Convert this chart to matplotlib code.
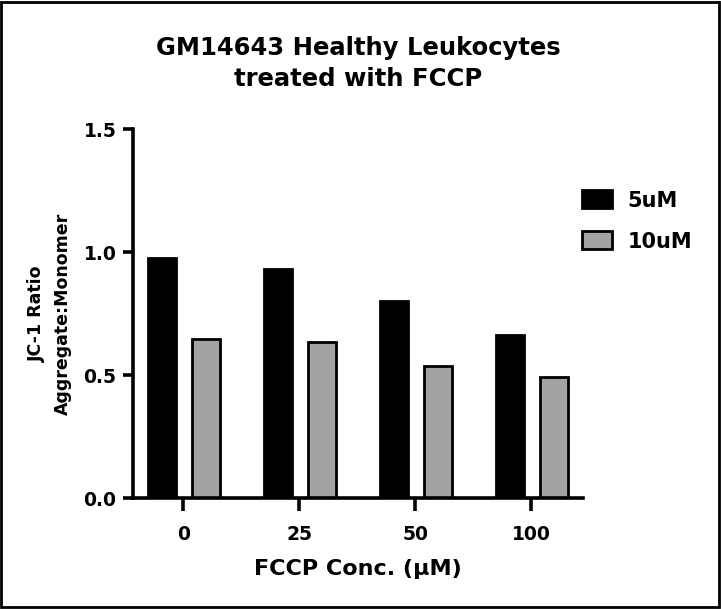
import matplotlib.pyplot as plt
import numpy as np
from matplotlib.patches import Rectangle

plt.rcParams["font.family"] = ["DejaVu Sans"]
plt.rcParams["font.weight"] = "bold"

categories = ["0", "25", "50", "100"]
series_names = ["5uM", "10uM"]
vals_5um = [0.978, 0.933, 0.804, 0.665]
vals_10um = [0.648, 0.635, 0.536, 0.493]

fig = plt.figure(figsize=(7.21, 6.09), dpi=100)
ax = fig.add_axes([0.1845, 0.1818, 0.6241, 0.6059])

x = np.arange(len(categories))
width = 0.245
ax.bar(x - 0.185, vals_5um, width, color="black", edgecolor="black", linewidth=2,
       label=series_names[0])
ax.bar(x + 0.195, vals_10um, width, color="#a3a3a6", edgecolor="black", linewidth=2,
       label=series_names[1])

ax.set_xlim(-0.434, 3.446)
ax.set_ylim(0, 1.5)
ax.set_yticks([0, 0.5, 1.0, 1.5])
ax.set_yticklabels(["0.0", "0.5", "1.0", "1.5"])
ax.set_xticks(x)
ax.set_xticklabels(categories)
ax.spines[["top", "right"]].set_visible(False)
for s in ["left", "bottom"]:
    ax.spines[s].set_linewidth(2.6)
ax.tick_params(width=2.6, length=7, labelsize=13.5, pad=5)
ax.tick_params(axis="x", length=9, pad=10)

ax.set_xlabel("FCCP Conc. (\u03bcM)", fontsize=16, fontweight="bold", labelpad=11)
ax.set_ylabel("JC-1 Ratio\nAggregate:Monomer", fontsize=12.5, fontweight="bold",
              labelpad=8, linespacing=1.6)
ax.set_title("GM14643 Healthy Leukocytes\ntreated with FCCP", fontsize=17.5,
             fontweight="bold", pad=31, linespacing=1.4)

ax.legend(loc="upper left", bbox_to_anchor=(0.955, 0.885), frameon=False, fontsize=15,
          handlelength=1.45, handleheight=0.95, handletextpad=0.75, labelspacing=1.0)

fig.patches.append(Rectangle((0.002, 0.004), 0.995, 0.993, transform=fig.transFigure,
                             fill=False, edgecolor="black", linewidth=2))

fig.savefig("out.png", dpi=100)
